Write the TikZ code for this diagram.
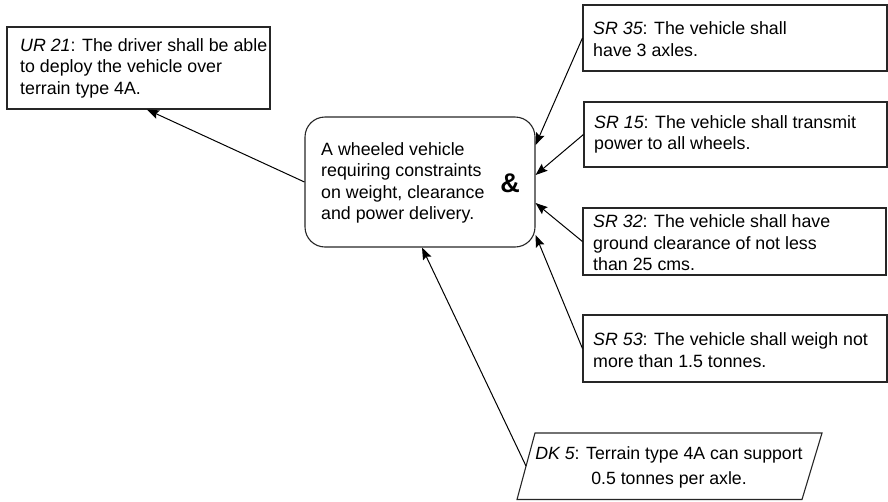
\documentclass[tikz,border=0pt]{standalone}
\usepackage{fontspec}
\setmainfont{Liberation Sans}
\usetikzlibrary{arrows.meta}
\begin{document}
\begin{tikzpicture}[x=1pt,y=-1pt,
  boxline/.style={draw=black!85,line width=1.1pt},
  reqbox/.style={boxline,rectangle,inner sep=0pt},
  txt/.style={inner sep=0pt,anchor=west,align=left,font=\fontsize{17.8}{21.5}\selectfont},
  conn/.style={draw=black,line width=1pt,-{Stealth[length=12pt,width=9pt,inset=2pt]}}
]
\useasboundingbox (0,0) rectangle (888,501);
% boxes
\node[reqbox,minimum width=263pt,minimum height=82pt] (ur) at (138.5,68) {};
\node[txt] (urt) at (20,68) {{\itshape UR 21}: The driver shall be able\\to deploy the vehicle over\\terrain type 4A.};
\node[reqbox,rounded corners=20pt,minimum width=230pt,minimum height=130pt] (c) at (420,182) {};
\node[txt] (ct) at (321,183) {A wheeled vehicle\\requiring constraints\\on weight, clearance\\and power delivery.};
\node[inner sep=0pt,font=\fontsize{27}{27}\bfseries] (amp) at (510,183) {\&};
\node[reqbox,minimum width=304pt,minimum height=66pt] (sr35) at (735,38) {};
\node[txt] (sr35t) at (593,39) {{\itshape SR 35}: The vehicle shall\\have 3 axles.};
\node[reqbox,minimum width=303pt,minimum height=65pt] (sr15) at (735.5,134.5) {};
\node[txt] (sr15t) at (594,134.5) {{\itshape SR 15}: The vehicle shall transmit\\power to all wheels.};
\node[reqbox,minimum width=303pt,minimum height=67pt] (sr32) at (734.5,241.5) {};
\node[txt] (sr32t) at (593,243) {{\itshape SR 32}: The vehicle shall have\\ground clearance of not less\\than 25 cms.};
\node[reqbox,minimum width=304pt,minimum height=67pt] (sr53) at (735,348.5) {};
\node[txt] (sr53t) at (593,350) {{\itshape SR 53}: The vehicle shall weigh not\\more than 1.5 tonnes.};
% DK parallelogram
\draw[boxline,line join=miter] (535,433) -- (822,433) -- (802,499.5) -- (517,499.5) -- cycle;
\coordinate (dkw) at (526,466);
\node[inner sep=0pt,align=center,font=\fontsize{17.7}{25}\selectfont] (dk) at (669,467) {{\itshape DK 5}: Terrain type 4A can support\\0.5 tonnes per axle.};
% connectors
\draw[conn] (c.west) -- ([xshift=8.5pt]ur.south);
\draw[conn] (sr35.west) -- ([yshift=37pt]c.east);
\draw[conn] (sr15.west) -- ([yshift=7pt]c.east);
\draw[conn] (sr32.west) -- ([yshift=-21pt]c.east);
\draw[conn] (sr53.west) -- ([yshift=-53pt]c.east);
\draw[conn] (dkw) -- ([xshift=2pt]c.south);
\end{tikzpicture}
\end{document}
